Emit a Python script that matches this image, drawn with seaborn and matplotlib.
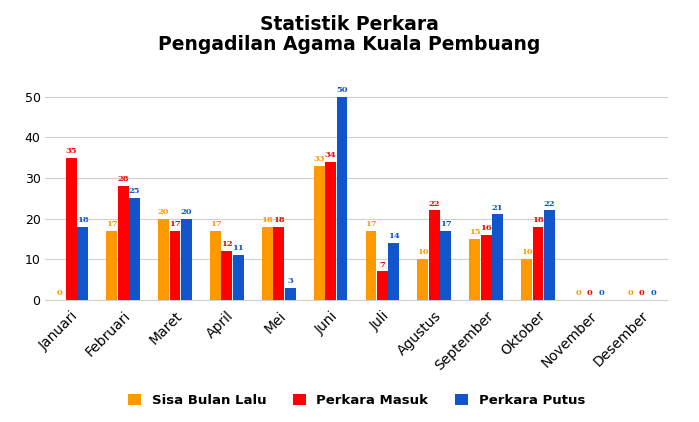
import matplotlib
matplotlib.use("Agg")
import matplotlib.pyplot as plt
import seaborn as sns
import pandas as pd

months = ["Januari","Februari","Maret","April","Mei","Juni","Juli","Agustus","September","Oktober","November","Desember"]
sisa = [0,17,20,17,18,33,17,10,15,10,0,0]
masuk = [35,28,17,12,18,34,7,22,16,18,0,0]
putus = [18,25,20,11,3,50,14,17,21,22,0,0]
series = ["Sisa Bulan Lalu","Perkara Masuk","Perkara Putus"]
colors = ["#FF9900","#FF0000","#1155CC"]

df = pd.DataFrame({"Bulan": months*3,
                   "Seri": [series[0]]*12+[series[1]]*12+[series[2]]*12,
                   "Nilai": sisa+masuk+putus})

fig, ax = plt.subplots(figsize=(6.99,4.22), dpi=100)
sns.barplot(data=df, x="Bulan", y="Nilai", hue="Seri", palette=colors, ax=ax,
            width=0.66, gap=0.05, saturation=1)
for cont, c in zip(ax.containers, colors):
    ax.bar_label(cont, padding=2, fontsize=6, color=c, fontweight="bold", family="DejaVu Serif")
ax.set_ylim(-1, 53)
ax.set_yticks(range(0,51,10))
ax.grid(axis="y", color="#d0d0d0", lw=0.8)
ax.set_axisbelow(True)
for s in ax.spines.values(): s.set_visible(False)
ax.set_xlabel(""); ax.set_ylabel("")
ax.tick_params(length=0, labelsize=9)
ax.tick_params(axis="x", labelsize=10)
plt.setp(ax.get_xticklabels(), rotation=45, ha="right", rotation_mode="anchor")
fig.suptitle("Statistik Perkara\nPengadilan Agama Kuala Pembuang", fontsize=13.5, fontweight="bold", linespacing=1.05, y=0.965)
ax.legend(loc="center", bbox_to_anchor=(0.5,-0.44), ncol=3, frameon=False,
          prop={"weight":"bold","size":9.5}, handlelength=1, handleheight=1, columnspacing=2)
fig.subplots_adjust(left=0.065, right=0.955, top=0.8, bottom=0.28)
fig.savefig("out.png", dpi=100)
